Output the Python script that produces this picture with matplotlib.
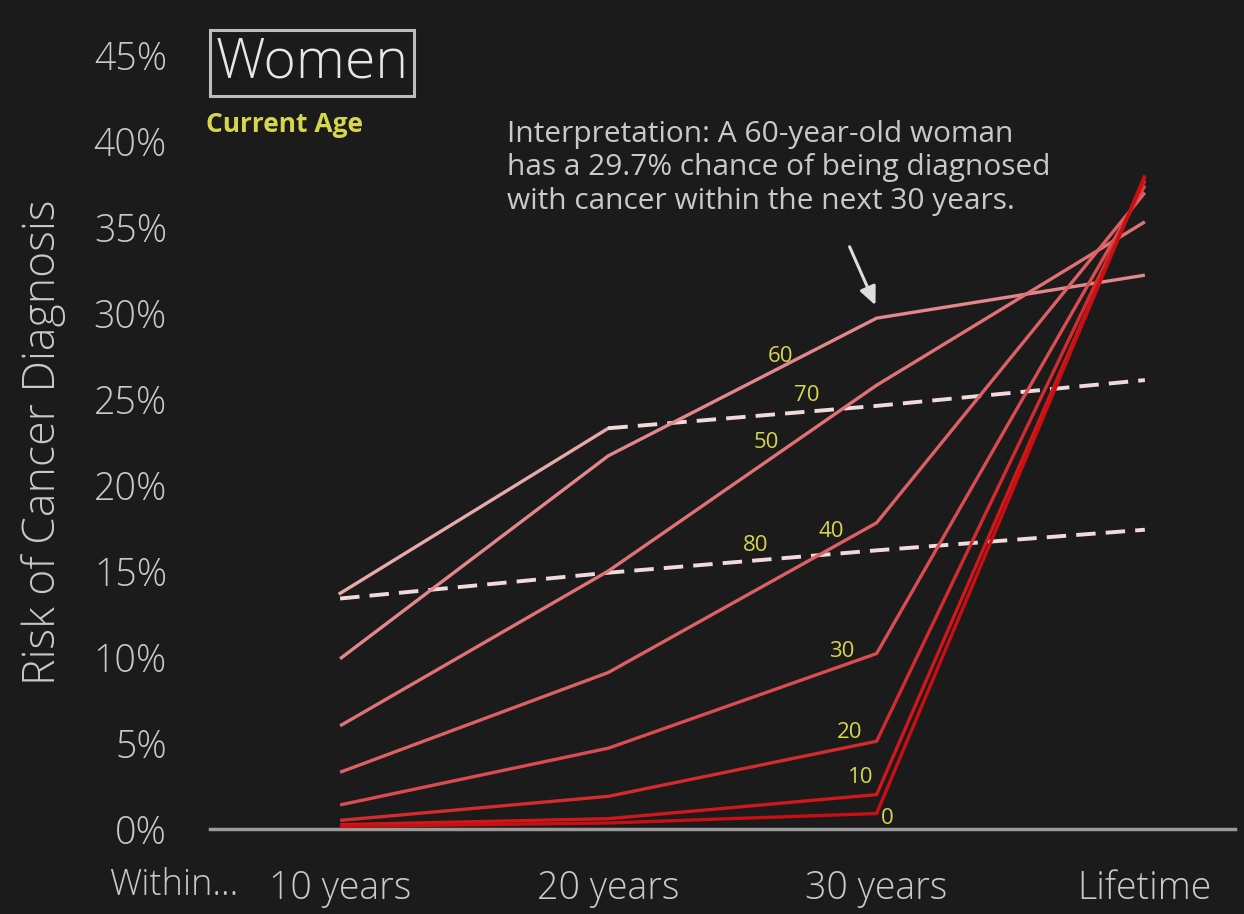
import matplotlib
matplotlib.use("Agg")
import matplotlib.pyplot as plt

# ---------------- data ----------------
periods = ["10 years", "20 years", "30 years", "Lifetime"]
ages = [80, 70, 60, 50, 40, 30, 20, 10, 0]
risk = {
    0:  [0.15, 0.35, 0.9, 38.0],
    10: [0.25, 0.6, 2.0, 37.9],
    20: [0.5, 1.9, 5.1, 37.7],
    30: [1.4, 4.7, 10.2, 37.4],
    40: [3.3, 9.1, 17.8, 37.0],
    50: [6.0, 15.0, 25.8, 35.3],
    60: [9.9, 21.7, 29.7, 32.2],
    70: [13.7, 23.3, 24.6, 26.1],
    80: [13.4, 14.9, 16.2, 17.4],
}
# index of the first projected (dashed) segment per age (None = all solid)
dash_from = {70: 1, 80: 0}
colors = {
    0: "#c90f12", 10: "#d0181b", 20: "#d42c2e", 30: "#da4c50",
    40: "#dd6064", 50: "#e07276", 60: "#e4878b", 70: "#e9a9aa", 80: "#f2d9d9",
}
dash_color = "#f2dada"
# label positions (period index, percent) for the age labels
label_pos = {
    60: (1.64, 27.5), 70: (1.74, 25.2), 50: (1.59, 22.5), 80: (1.55, 16.5),
    40: (1.83, 17.3), 30: (1.87, 10.3), 20: (1.90, 5.6), 10: (1.94, 2.97), 0: (2.04, 0.6),
}
yticks = [0, 5, 10, 15, 20, 25, 30, 35, 40, 45]

BG = "#1b1b1b"
TXT = "#c9c9c9"
YEL = "#d6d64e"
FONT = ["Open Sans", "DejaVu Sans"]
plt.rcParams["font.family"] = FONT

fig = plt.figure(figsize=(12.44, 9.14), dpi=100, facecolor=BG)
ax = fig.add_axes([210 / 1244, 85 / 914, 1025 / 1244, 774 / 914])
ax.set_facecolor(BG)

x = list(range(len(periods)))
for age in ages:
    vals = risk[age]
    d = dash_from.get(age)
    c = colors[age]
    if d is None:
        ax.plot(x, vals, color=c, lw=2.4, solid_capstyle="butt", zorder=3)
    else:
        if d > 0:
            ax.plot(x[:d + 1], vals[:d + 1], color=c, lw=2.4, zorder=3)
        ax.plot(x[d:], vals[d:], color=dash_color, lw=2.8,
                dashes=(5, 2.6), zorder=3)

for age, (lx, ly) in label_pos.items():
    ax.text(lx, ly, str(age), color=YEL, fontsize=16, ha="center", va="center",
            zorder=5)

ax.set_xlim(-0.485, 3.336)
ax.set_ylim(0, 45)
ax.set_xticks(x)
ax.set_xticklabels(periods)
ax.set_yticks(yticks)
ax.set_yticklabels([f"{t}%" for t in yticks])
for s in ["top", "right", "left"]:
    ax.spines[s].set_visible(False)
ax.spines["bottom"].set_color("#9a9a9a")
ax.spines["bottom"].set_linewidth(2.5)
ax.spines["bottom"].set_zorder(2)
ax.tick_params(axis="both", length=0, colors=TXT, labelsize=27)
ax.tick_params(axis="y", pad=31)
ax.tick_params(axis="x", pad=29)
for lab in ax.get_xticklabels() + ax.get_yticklabels():
    lab.set_fontweight("light")

ax.text(-0.62, -3.3, "Within...", color=TXT, fontsize=26, fontweight="light",
        ha="center", va="center", clip_on=False)

ax.set_ylabel("Risk of Cancer Diagnosis", color=TXT, fontsize=32,
              fontweight="light", labelpad=20)

# title box
fig.text(312 / 1244, 1 - 63 / 914, "Women", color="#e6e6e6", fontsize=40,
         fontweight="light", ha="center", va="center",
         bbox=dict(boxstyle="square,pad=0.1", fc=BG, ec="#bdbdbd", lw=2.2))
fig.text(206 / 1244, 1 - 125 / 914, "Current Age", color=YEL, fontsize=19,
         fontweight="bold", ha="left", va="center")

fig.text(507 / 1244, 1 - 168 / 914,
         "Interpretation: A 60-year-old woman\nhas a 29.7% chance of being diagnosed\nwith cancer within the next 30 years.",
         color=TXT, fontsize=21.5, ha="left", va="center", linespacing=1.2)

ax.annotate("", xy=(2.0, 30.3), xytext=(1.895, 34.0),
            arrowprops=dict(arrowstyle="-|>,head_length=1.1,head_width=0.5",
                            color="#dddddd", lw=2.2))

fig.savefig("out.png", dpi=100, facecolor=BG)
